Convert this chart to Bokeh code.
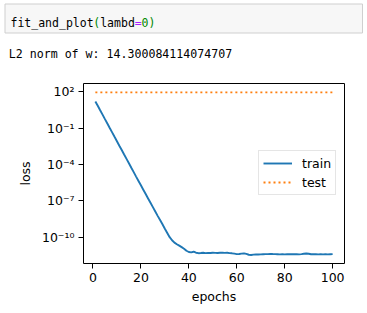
from bokeh.plotting import figure
from bokeh.models import Range1d, FixedTicker, CustomJSTickFormatter, Legend, LegendItem
from bokeh.layouts import column
from bokeh.core.properties import value
from bokeh.embed import file_html
from bokeh.resources import INLINE

# ---------------- data ----------------
code_segments = ["fit_and_plot", "(", "lambd", "=", "0", ")"]
code_colors = ["#000000", "#008800", "#000000", "#aa22ff", "#008800", "#008800"]
output_text = "L2 norm of w: 14.300084114074707"

epochs = list(range(1, 101))
train_loss = [
    1.58e1, 6.92e0, 2.95e0, 1.29e0, 5.50e-1, 2.40e-1, 1.02e-1, 4.47e-2, 1.91e-2, 8.32e-3,
    3.55e-3, 1.55e-3, 6.61e-4, 2.88e-4, 1.26e-4, 5.37e-5, 2.34e-5, 1.00e-5, 4.37e-6, 1.91e-6,
    8.32e-7, 3.63e-7, 1.58e-7, 6.92e-8, 3.02e-8, 1.32e-8, 5.75e-9, 2.63e-9, 1.17e-9, 5.01e-10,
    2.24e-10, 1.00e-10, 5.62e-11, 3.55e-11, 2.63e-11, 2.00e-11, 1.51e-11, 1.12e-11, 7.59e-12, 6.03e-12,
    5.62e-12, 6.31e-12, 5.25e-12, 4.79e-12, 5.01e-12, 5.25e-12, 4.90e-12, 5.13e-12, 5.01e-12, 5.25e-12,
    5.13e-12, 5.01e-12, 5.25e-12, 5.37e-12, 5.13e-12, 5.25e-12, 4.90e-12, 4.68e-12, 4.37e-12, 3.98e-12,
    4.07e-12, 4.37e-12, 4.68e-12, 4.17e-12, 3.55e-12, 3.39e-12, 3.63e-12, 3.80e-12, 3.72e-12, 3.80e-12,
    3.89e-12, 3.98e-12, 3.98e-12, 4.17e-12, 4.07e-12, 3.98e-12, 3.89e-12, 3.80e-12, 3.89e-12, 3.80e-12,
    3.89e-12, 3.98e-12, 3.89e-12, 3.98e-12, 3.89e-12, 3.80e-12, 3.98e-12, 4.27e-12, 4.57e-12, 4.27e-12,
    3.89e-12, 3.98e-12, 3.89e-12, 3.80e-12, 3.89e-12, 3.80e-12, 3.89e-12, 3.80e-12, 3.89e-12, 3.98e-12,
]
test_loss = [
    89.4, 89.3, 89.3, 89.2, 89.2, 89.2, 89.1, 89.1, 89.1, 89.1,
    89.1, 89.0, 89.0, 89.0, 89.0, 89.0, 89.0, 89.0, 89.0, 89.0,
    89.0, 89.0, 89.0, 89.0, 89.0, 89.0, 89.0, 89.0, 89.0, 89.0,
    89.0, 89.0, 89.0, 89.0, 89.0, 89.0, 89.0, 89.0, 89.0, 89.0,
    89.0, 89.0, 89.0, 89.0, 89.0, 89.0, 89.0, 89.0, 89.0, 89.0,
    89.0, 89.0, 89.0, 89.0, 89.0, 89.0, 89.0, 89.0, 89.0, 89.0,
    89.0, 89.0, 89.0, 89.0, 89.0, 89.0, 89.0, 89.0, 89.0, 89.0,
    89.0, 89.0, 89.0, 89.0, 89.0, 89.0, 89.0, 89.0, 89.0, 89.0,
    89.0, 89.0, 89.0, 89.0, 89.0, 89.0, 89.0, 89.0, 89.0, 89.0,
    89.0, 89.0, 89.0, 89.0, 89.0, 89.0, 89.0, 89.0, 89.0, 89.0,
]
x_ticks = [0, 20, 40, 60, 80, 100]
y_ticks = [1e-10, 1e-7, 1e-4, 1e-1, 1e2]

# ---------------- notebook header ----------------
W = 367
header = figure(width=W, height=70, x_range=Range1d(0, W), y_range=Range1d(70, 0),
                x_axis_location=None, y_axis_location=None, min_border=0,
                toolbar_location=None, output_backend="svg")
header.frame_align = False
header.grid.visible = False
header.outline_line_color = None
header.quad(left=4.5, right=362, top=3.5, bottom=32.5,
            fill_color="#f7f7f7", line_color="#cfcfcf", line_width=1)

pitch = 6.9
pos = 0
for seg, col in zip(code_segments, code_colors):
    header.text(x=[10 + pos * pitch], y=[22], text=[seg], text_color=col,
                text_font=value("DejaVu Sans Mono"), text_font_size="11.5px",
                text_baseline="alphabetic", text_align="left")
    pos += len(seg)

header.text(x=[8.3], y=[53.3], text=[output_text], text_color="#000000",
            text_font=value("DejaVu Sans Mono"), text_font_size="11.6px",
            text_baseline="alphabetic", text_align="left")

# ---------------- main plot ----------------
p = figure(width=W, height=243, y_axis_type="log",
           x_range=Range1d(-3.95, 104.95), y_range=Range1d(10 ** -12.17, 10 ** 2.68),
           min_border_left=83, min_border_right=23, min_border_top=13, min_border_bottom=50,
           toolbar_location=None, output_backend="svg")
p.frame_align = False
p.grid.visible = False
p.outline_line_color = "#000000"
p.outline_line_width = 1
p.background_fill_color = "white"
p.border_fill_color = "white"

r_train = p.line(epochs, train_loss, line_color="#1f77b4", line_width=1.9)
r_test = p.line(epochs, test_loss, line_color="#ff7f0e", line_width=1.9, line_dash="2 3")

p.xaxis.ticker = FixedTicker(ticks=x_ticks, minor_ticks=[])
p.yaxis.ticker = FixedTicker(ticks=y_ticks, minor_ticks=[])
p.yaxis.formatter = CustomJSTickFormatter(code="""
const sup = {"0":"\\u2070","1":"\\u00b9","2":"\\u00b2","3":"\\u00b3","4":"\\u2074",
             "5":"\\u2075","6":"\\u2076","7":"\\u2077","8":"\\u2078","9":"\\u2079","-":"\\u207b"};
const e = Math.round(Math.log10(tick));
return "10" + String(e).split("").map(c => sup[c]).join("");
""")

for ax in (p.xaxis[0], p.yaxis[0]):
    ax.axis_line_color = None
    ax.major_tick_out = 5
    ax.major_tick_in = 0
    ax.major_tick_line_color = "#000000"
    ax.minor_tick_line_color = None
    ax.major_label_text_font = "DejaVu Sans"
    ax.major_label_text_font_size = "12.5px"
    ax.major_label_text_color = "#000000"
    ax.axis_label_text_font = "DejaVu Sans"
    ax.axis_label_text_font_size = "12.5px"
    ax.axis_label_text_font_style = "normal"
    ax.axis_label_text_color = "#000000"
    ax.major_label_standoff = 4

p.xaxis.axis_label = "epochs"
p.yaxis.axis_label = "loss"
p.xaxis.axis_label_standoff = 4
p.yaxis.axis_label_standoff = 6

legend = Legend(items=[LegendItem(label="train", renderers=[r_train]),
                       LegendItem(label="test", renderers=[r_test])],
                location=(175, 68), margin=0, padding=4, spacing=3,
                glyph_width=29, glyph_height=16, label_height=16, label_standoff=10,
                label_text_font="DejaVu Sans", label_text_font_size="12.5px",
                label_text_color="#000000",
                border_line_color="#cccccc", border_line_width=1,
                background_fill_color="white", background_fill_alpha=0.8)
p.add_layout(legend)

layout = column(header, p, spacing=0)
open("out.html", "w", encoding="utf-8").write(file_html(layout, INLINE))
